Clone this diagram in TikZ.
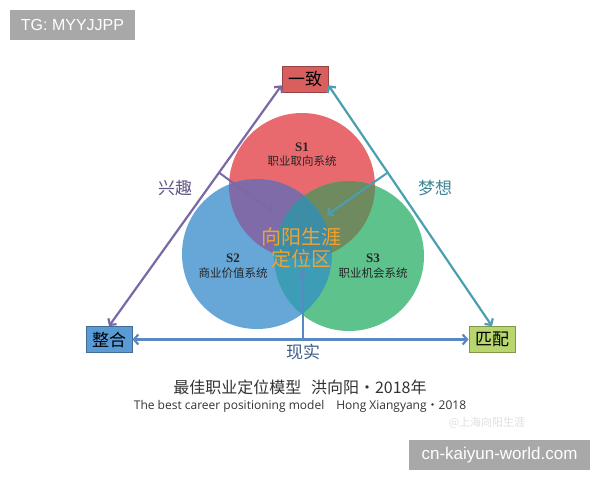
\documentclass[tikz,border=0pt]{standalone}
\usepackage{fontspec}
\setmainfont{Liberation Serif}
\newfontfamily\cjk{Noto Sans CJK SC}
\newfontfamily\osans{Open Sans}
\newfontfamily\lsans{Liberation Sans}
\usetikzlibrary{arrows.meta,calc}
\definecolor{cred}{HTML}{E96A6E}
\definecolor{cblue}{HTML}{66A7D8}
\definecolor{cgreen}{HTML}{5EC28D}
\definecolor{cpurp}{HTML}{7E6BA8}
\definecolor{colive}{HTML}{6F8A5E}
\definecolor{cteal}{HTML}{3D9DB6}
\definecolor{ccent}{HTML}{3E8DA6}
\definecolor{lpurp}{HTML}{7B68A6}
\definecolor{lteal}{HTML}{4A9FB0}
\definecolor{lblue}{HTML}{5A88C4}
\definecolor{wmgray}{HTML}{A8A8A8}
\definecolor{ctext}{HTML}{333333}
\definecolor{corange}{HTML}{F0A232}
\definecolor{bred}{HTML}{D95F5F}
\definecolor{bblue}{HTML}{5B9BD5}
\definecolor{bgreen}{HTML}{B8D56E}
\begin{document}
\begin{tikzpicture}[x=1pt,y=-1pt,
  wmbox/.style={fill=wmgray, text=white, inner sep=0pt, font=\lsans\fontsize{16}{18}\selectfont},
  tbox/.style={draw=#1!70!black, fill=#1, line width=0.8pt, minimum width=46pt, minimum height=26pt, inner sep=0pt, font=\cjk\fontsize{17}{19}\selectfont, text=black},
  link/.style={line width=2.2pt, {Straight Barb[length=4.5pt,width=10pt]}-{Straight Barb[length=4.5pt,width=10pt]}},
  inarrow/.style={line width=2pt, -{Straight Barb[length=4.5pt,width=9pt]}},
  sname/.style={font=\bfseries\fontsize{13}{15}\selectfont, text=black!85},
  sdesc/.style={font=\cjk\fontsize{11.5}{13}\selectfont, text=black!85},
  side/.style={font=\cjk\fontsize{17}{19}\selectfont}
]
\useasboundingbox (0,0) rectangle (600,480);
\fill[white] (0,0) rectangle (600,480);

% circles
\fill[cred] (302,186) circle[radius=73];
\fill[cblue] (257,254) circle[radius=75];
\fill[cgreen] (349,256) circle[radius=75];
\begin{scope}\clip (302,186) circle[radius=73]; \fill[cpurp] (257,254) circle[radius=75]; \end{scope}
\begin{scope}\clip (302,186) circle[radius=73]; \fill[colive] (349,256) circle[radius=75]; \end{scope}
\begin{scope}\clip (257,254) circle[radius=75]; \fill[cteal] (349,256) circle[radius=75]; \end{scope}
\begin{scope}\clip (302,186) circle[radius=73]; \clip (257,254) circle[radius=75]; \fill[ccent] (349,256) circle[radius=75]; \end{scope}

% boxes
\node[tbox=bred] (yz) at (305,79) {一致};
\node[tbox=bblue] (zh) at (109,339.5) {整合};
\node[tbox=bgreen] (pp) at (492,339.5) {匹配};

% triangle
\draw[link, lpurp] (yz.195) -- (zh.north);
\draw[link, lteal] (yz.-15) -- (pp.north);
\draw[link, lblue] (zh.east) -- (pp.west);

% inner arrows
\coordinate (lp) at ($(yz.195)!0.3626!(zh.north)$);
\coordinate (rp) at ($(yz.-15)!0.3626!(pp.north)$);
\coordinate (bp) at ($(zh.east)!0.507!(pp.west)$);
\coordinate (ta) at (273,212);
\coordinate (tb) at (327,215);
\coordinate (tc) at (303,270);
\draw[inarrow, lpurp] (lp) -- (ta);
\draw[inarrow, lteal] (rp) -- (tb);
\draw[inarrow, lblue] (bp) -- (bp |- tc);

% side labels
\node[side, text=lpurp!80!black] (xq) at (175,188) {兴趣};
\node[side, text=lteal!85!black] (mx) at (435,188) {梦想};
\node[side, text=lblue!70!black] (xs) at (303,352) {现实};

% circle labels
\node[sname] (s1) at (302,147) {S1};
\node[sdesc] (d1) at (302,161) {职业取向系统};
\node[sname] (s2) at (233,258) {S2};
\node[sdesc] (d2) at (233,273) {商业价值系统};
\node[sname] (s3) at (373,258) {S3};
\node[sdesc] (d3) at (373,273) {职业机会系统};

% center
\node[font=\cjk\fontsize{20}{22}\selectfont, text=corange, align=center] (ctr) at (301,248) {向阳生涯\\定位区};

% captions
\node[font=\cjk\fontsize{16}{18}\selectfont, text=ctext] (cap1) at (300,387) {最佳职业定位模型\hspace{0.6em}洪向阳・2018年};
\node[font=\osans\fontsize{12}{14}\selectfont, text=ctext] (cap2) at (300,406) {The best career positioning model\hspace{1em}Hong Xiangyang{\cjk・}2018};
\node[font=\cjk\fontsize{11}{13}\selectfont, text=black!12] (wm3) at (487,423) {@上海向阳生涯};

% watermarks
\node[wmbox, minimum width=125pt, minimum height=30pt] (wm1) at (72.5,25) {TG: MYYJJPP};
\node[wmbox, minimum width=181pt, minimum height=30pt, font=\lsans\fontsize{17}{19}\selectfont] (wm2) at (499.5,455) {cn-kaiyun-world.com};
\end{tikzpicture}
\end{document}
